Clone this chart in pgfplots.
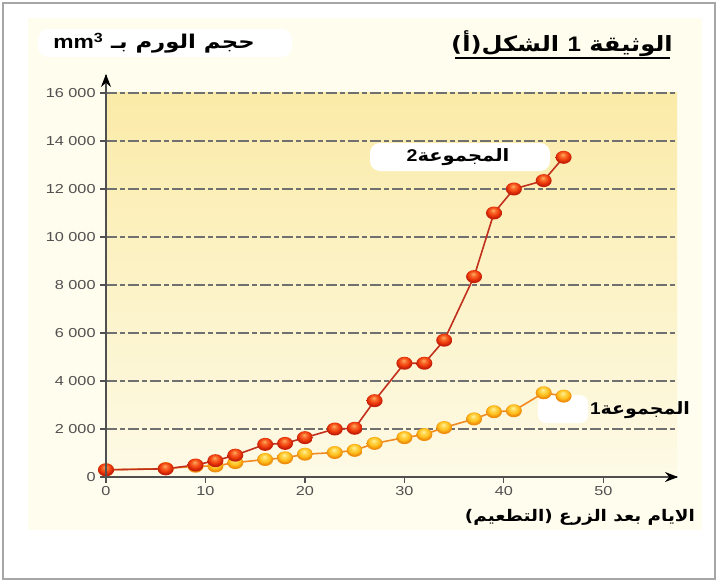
\documentclass[border=0pt]{standalone}
\usepackage{pgfplots}
\pgfplotsset{compat=1.18}
\usepackage{fontspec}
\setmainfont{Liberation Sans}
\newfontfamily\arabicfont[Script=Arabic]{DejaVu Sans}
\TeXXeTstate=1
\usetikzlibrary{arrows.meta}
\definecolor{axgray}{HTML}{505050}
\definecolor{gridgray}{HTML}{707070}
\definecolor{cream}{HTML}{FFFDEE}
\definecolor{ytop}{HTML}{FBEBA8}
\definecolor{ybot}{HTML}{FDFAE6}
\definecolor{redline}{HTML}{C0301C}
\definecolor{orline}{HTML}{F08A20}
\definecolor{rhi}{HTML}{FFB060}
\definecolor{rmid}{HTML}{F2400E}
\definecolor{rlow}{HTML}{C82008}
\definecolor{yhi}{HTML}{FFF4A0}
\definecolor{ymid}{HTML}{FFC21E}
\definecolor{ylow}{HTML}{F0900C}
\pgfdeclareradialshading{redballsh}{\pgfpoint{-3bp}{11bp}}{color(0bp)=(rhi); color(8bp)=(rhi!40!rmid); color(16bp)=(rmid); color(24bp)=(rlow); color(50bp)=(rlow!80!black)}
\pgfdeclareradialshading{yelballsh}{\pgfpoint{-3bp}{11bp}}{color(0bp)=(yhi); color(8bp)=(yhi!40!ymid); color(16bp)=(ymid); color(24bp)=(ylow); color(50bp)=(ylow!85!black)}
\pgfdeclareplotmark{redb}{\pgfpathellipse{\pgfpointorigin}{\pgfqpoint{8pt}{0pt}}{\pgfqpoint{0pt}{6.5pt}}\pgfshadepath{redballsh}{0}\pgfusepath{}}
\pgfdeclareplotmark{yelb}{\pgfpathellipse{\pgfpointorigin}{\pgfqpoint{8pt}{0pt}}{\pgfqpoint{0pt}{6.5pt}}\pgfshadepath{yelballsh}{0}\pgfusepath{}}
\begin{document}
\begin{tikzpicture}[x=1pt,y=1pt]
\useasboundingbox (-106,-105) rectangle (621,477);
\fill[white] (-106,-105) rectangle (621,477);
\fill[cream] (-78,-53) rectangle (596,459);
\draw[gray!70, line width=1.2pt] (-103,-102) rectangle (609,474);
\shade[top color=ytop, bottom color=ybot] (0,0) rectangle (571,384);
% white blobs
\fill[white, rounded corners=10pt] (-68,448) rectangle (186,420);
\fill[white, rounded corners=10pt] (264,334) rectangle (444,306);
\fill[white, rounded corners=8pt] (432,82) rectangle (482,54);
\begin{axis}[
  at={(0,0)}, anchor=origin,
  scale only axis, width=571pt, height=402pt,
  xmin=0, xmax=57.4, ymin=0, ymax=16750,
  axis lines=left,
  axis line style={axgray, line width=1.6pt, -},
  xtick={0,10,20,30,40,50},
  ytick={0,2000,4000,6000,8000,10000,12000,14000,16000},
  yticklabels={0,2 000,4 000,6 000,8 000,10 000,12 000,14 000,16 000},
  scaled y ticks=false,
  tick align=outside,
  major tick length=6pt,
  tick style={axgray, line width=1.1pt},
  ticklabel style={font=\fontsize{13}{15}\selectfont, text=axgray, xscale=1.25},
  /pgf/number format/assume math mode=true,
  ymajorgrids,
  major grid style={gridgray, line width=1.3pt, dash pattern=on 11pt off 3pt on 5pt off 3pt},
  clip=false,
]
% group 1 (yellow)
\addplot[orline, line width=1.6pt, mark=yelb] coordinates {
  (0,300) (6,350) (9,450) (11,460) (13,600) (16,730) (18,800) (20,950) (23,1020)
  (25,1110) (27,1400) (30,1640) (32,1770) (34,2060) (37,2420) (39,2720)
  (41,2760) (44,3510) (46,3370)
};
% group 2 (red)
\addplot[redline, line width=1.6pt, mark=redb] coordinates {
  (0,300) (6,340) (9,500) (11,680) (13,910) (16,1360) (18,1400) (20,1640)
  (23,2000) (25,2030) (27,3180) (30,4740) (32,4740) (34,5700) (37,8350)
  (39,11000) (41,12000) (44,12350) (46,13320)
};
\end{axis}
% axis arrows
\draw[axgray, line width=1.6pt, -{Stealth[length=13pt,width=10pt,black]}] (0,0) -- (572,0);
\draw[axgray, line width=1.6pt, -{Stealth[length=13pt,width=10pt,black]}] (0,0) -- (0,403);
% labels
\node[font=\fontsize{19}{22}\selectfont, xscale=1.2, inner sep=0] at (48,434)
  {\arabicfont\bfseries\beginR حجم الورم بـ {\rmfamily\bfseries\beginL mm\textsuperscript{3}\endL}\endR};
\node[font=\fontsize{21}{24}\selectfont, xscale=1.15, inner sep=0, anchor=base] (t) at (456,425)
  {\arabicfont\bfseries\beginR الوثيقة {\rmfamily\bfseries 1} الشكل(أ)\endR};
\draw[black, line width=1.6pt] (349,419) -- (564,419);
\node[font=\fontsize{17}{20}\selectfont, xscale=1.15, inner sep=0] at (352,320)
  {\arabicfont\bfseries\beginR المجموعة{\rmfamily\bfseries 2}\endR};
\node[font=\fontsize{17}{20}\selectfont, xscale=1.12, inner sep=0] at (534,67)
  {\arabicfont\bfseries\beginR المجموعة{\rmfamily\bfseries 1}\endR};
\node[font=\fontsize{16}{18}\selectfont, xscale=1.15, inner sep=0] at (474,-40)
  {\arabicfont\bfseries\beginR الايام بعد الزرع (التطعيم)\endR};
\end{tikzpicture}
\end{document}
